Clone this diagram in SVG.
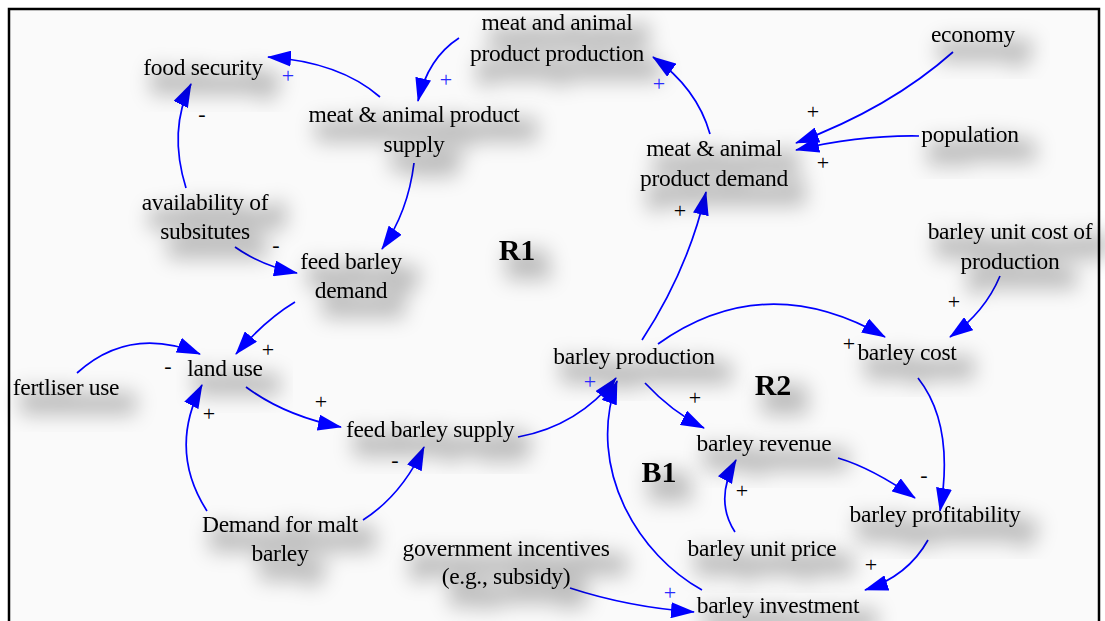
<svg xmlns="http://www.w3.org/2000/svg" width="1105" height="621" viewBox="0 0 1105 621">
<style>
.t{font-family:"Liberation Serif","Times New Roman",serif;font-size:23.5px;fill:#000;text-anchor:middle;letter-spacing:-0.3px}
.lp{font-family:"Liberation Serif","Times New Roman",serif;font-size:30px;font-weight:bold;fill:#000;text-anchor:middle}
.p{font-family:"Liberation Serif","Times New Roman",serif;font-size:22px;fill:#000;text-anchor:middle}
.pb{font-family:"Liberation Serif","Times New Roman",serif;font-size:22px;fill:#2a2aff;text-anchor:middle}
.c path{fill:none;stroke:#0000ff;stroke-width:1.7;marker-end:url(#ah)}
.sh{filter:url(#shadow)}
</style>
<defs>
<marker id="ah" markerUnits="userSpaceOnUse" markerWidth="24" markerHeight="16" viewBox="0 0 24 16" refX="23" refY="8" orient="auto">
<path d="M0,0 L24,8 L0,16 z" fill="#0000ff"/>
</marker>
<filter id="shadow" x="-30%" y="-80%" width="170%" height="300%">
<feMorphology in="SourceAlpha" operator="dilate" radius="6" result="d"/>
<feGaussianBlur in="d" stdDeviation="10" result="b"/>
<feOffset in="b" dx="12" dy="14" result="o"/>
<feFlood flood-color="#000" flood-opacity="0.24"/>
<feComposite in2="o" operator="in" result="s"/>
<feMerge><feMergeNode in="s"/><feMergeNode in="SourceGraphic"/></feMerge>
</filter>
</defs>
<rect x="0" y="0" width="1105" height="621" fill="#fff"/>
<rect x="9" y="9" width="1090" height="625" fill="#fafafa" stroke="#000" stroke-width="2.5"/>

<g class="c" id="connectors">
<path d="M380,97 Q340,62 268,57"/>
<path d="M459,38 Q428,58 418,101"/>
<path d="M710,134 Q697,88 653,57"/>
<path d="M953,52 Q890,108 796,143"/>
<path d="M919,136 Q860,135 796,150"/>
<path d="M642,340 Q688,270 706,192"/>
<path d="M186,188 Q168,130 191,84"/>
<path d="M235,247 Q262,266 297,273"/>
<path d="M414,163 Q408,212 382,249"/>
<path d="M295,302 Q265,320 236,354"/>
<path d="M77,373 Q130,325 200,354"/>
<path d="M207,511 Q168,450 202,385"/>
<path d="M246,387 Q285,416 341,427"/>
<path d="M363,520 Q402,495 424,447"/>
<path d="M518,437 Q578,426 616,378"/>
<path d="M702,590 C640,556 585,470 617,381"/>
<path d="M645,383 Q672,412 704,428"/>
<path d="M658,344 Q765,268 885,337"/>
<path d="M1000,276 Q985,312 950,337"/>
<path d="M918,378 Q955,425 940,511"/>
<path d="M838,458 Q872,468 915,498"/>
<path d="M735,532 Q714,500 736,460"/>
<path d="M928,540 Q908,576 865,590"/>
<path d="M570,588 Q628,607 694,612"/>
</g>

<g id="food-security" class="sh"><text class="t" x="203" y="75">food security</text></g>
<g id="meat-production" class="sh"><text class="t" x="557" y="30">meat and animal</text><text class="t" x="557" y="61">product production</text></g>
<g id="meat-supply" class="sh"><text class="t" x="414" y="122">meat &amp; animal product</text><text class="t" x="414" y="152">supply</text></g>
<g id="economy" class="sh"><text class="t" x="973" y="42">economy</text></g>
<g id="population" class="sh"><text class="t" x="970" y="142">population</text></g>
<g id="meat-demand" class="sh"><text class="t" x="714" y="156">meat &amp; animal</text><text class="t" x="714" y="186">product demand</text></g>
<g id="availability" class="sh"><text class="t" x="205" y="210">availability of</text><text class="t" x="205" y="239">subsitutes</text></g>
<g id="feed-barley-demand" class="sh"><text class="t" x="351" y="269">feed barley</text><text class="t" x="351" y="298">demand</text></g>
<g id="unit-cost" class="sh"><text class="t" x="1010" y="239">barley unit cost of</text><text class="t" x="1010" y="269">production</text></g>
<g id="land-use" class="sh"><text class="t" x="225" y="376">land use</text></g>
<g id="fertliser" class="sh"><text class="t" x="66" y="395">fertliser use</text></g>
<g id="barley-production" class="sh"><text class="t" x="634" y="364">barley production</text></g>
<g id="barley-cost" class="sh"><text class="t" x="907" y="360">barley cost</text></g>
<g id="feed-barley-supply" class="sh"><text class="t" x="430" y="437">feed barley supply</text></g>
<g id="barley-revenue" class="sh"><text class="t" x="764" y="451">barley revenue</text></g>
<g id="malt" class="sh"><text class="t" x="280" y="532">Demand for malt</text><text class="t" x="280" y="561">barley</text></g>
<g id="profitability" class="sh"><text class="t" x="935" y="522">barley profitability</text></g>
<g id="gov" class="sh"><text class="t" x="506" y="556">government incentives</text><text class="t" x="506" y="584">(e.g., subsidy)</text></g>
<g id="unit-price" class="sh"><text class="t" x="762" y="556">barley unit price</text></g>
<g id="investment" class="sh"><text class="t" x="778" y="613">barley investment</text></g>

<g id="loops" class="sh">
<text class="lp" x="517" y="260">R1</text>
<text class="lp" x="773" y="395">R2</text>
<text class="lp" x="659" y="482">B1</text>
</g>

<g id="polarities">
<text class="pb" x="288" y="83">+</text>
<text class="pb" x="446" y="87">+</text>
<text class="pb" x="659" y="91">+</text>
<text class="p" x="202" y="121">-</text>
<text class="p" x="813" y="119">+</text>
<text class="p" x="823" y="170">+</text>
<text class="p" x="680" y="218">+</text>
<text class="p" x="276" y="252">-</text>
<text class="p" x="268" y="357">+</text>
<text class="p" x="168" y="373">-</text>
<text class="p" x="209" y="421">+</text>
<text class="p" x="321" y="409">+</text>
<text class="p" x="395" y="467">-</text>
<text class="pb" x="590" y="389">+</text>
<text class="p" x="695" y="405">+</text>
<text class="p" x="849" y="351">+</text>
<text class="p" x="954" y="309">+</text>
<text class="p" x="924" y="482">-</text>
<text class="p" x="742" y="498">+</text>
<text class="p" x="871" y="572">+</text>
<text class="pb" x="670" y="600">+</text>
</g>
</svg>
